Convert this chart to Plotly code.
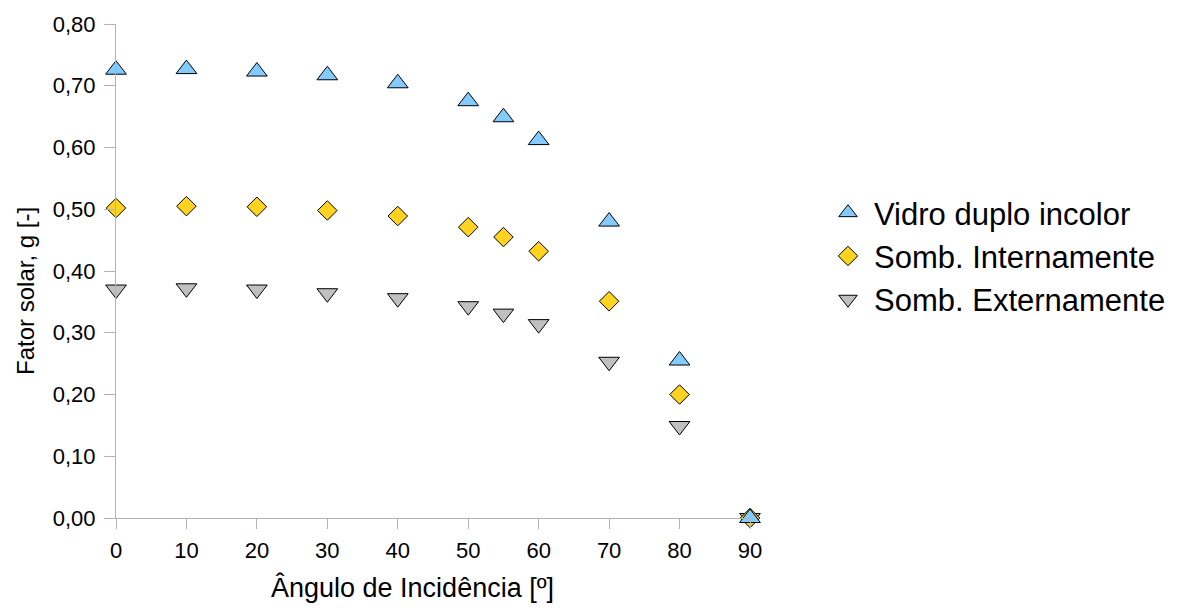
import plotly.graph_objects as go

angles = [0, 10, 20, 30, 40, 50, 55, 60, 70, 80, 90]
vidro = [0.726, 0.727, 0.723, 0.717, 0.704, 0.675, 0.649, 0.612, 0.480, 0.255, 0.000]
somb_int = [0.502, 0.505, 0.504, 0.498, 0.489, 0.471, 0.455, 0.432, 0.351, 0.200, 0.000]
somb_ext = [0.370, 0.372, 0.370, 0.364, 0.356, 0.343, 0.331, 0.314, 0.253, 0.149, 0.000]
names = ["Vidro duplo incolor", "Somb. Internamente", "Somb. Externamente"]
yticks = [0.0, 0.1, 0.2, 0.3, 0.4, 0.5, 0.6, 0.7, 0.8]
ytext = ["0,00", "0,10", "0,20", "0,30", "0,40", "0,50", "0,60", "0,70", "0,80"]
xticks = [0, 10, 20, 30, 40, 50, 60, 70, 80, 90]

FONT = "Liberation Sans, Arial, sans-serif"
AX = "#b3b3b3"

fig = go.Figure()
styles = [
    (vidro, "triangle-up", 18, "#83caff"),
    (somb_int, "diamond", 15, "#ffd320"),
    (somb_ext, "triangle-down", 18, "#c0c0c0"),
]
# draw last series first so the first series sits on top (as in the reference)
for (ys, sym, sz, col), nm in reversed(list(zip(styles, names))):
    fig.add_trace(go.Scatter(
        x=angles, y=ys, mode="markers", name=nm, cliponaxis=False,
        marker=dict(symbol=sym, size=sz, color=col, line=dict(color="#000000", width=1)),
    ))

fig.update_layout(
    width=1181, height=608,
    margin=dict(l=116, r=431, t=22, b=90),
    paper_bgcolor="white", plot_bgcolor="white",
    font=dict(family=FONT, color="#000000"),
    showlegend=True,
    legend=dict(
        xref="container", yref="container",
        x=822 / 1181, y=1 - 186 / 608, xanchor="left", yanchor="top",
        font=dict(size=31, family=FONT, color="#000000"),
        bgcolor="rgba(0,0,0,0)", traceorder="reversed", itemwidth=42,
    ),
    xaxis=dict(
        range=[0, 90], tickvals=xticks, showgrid=False, zeroline=False,
        showline=True, linecolor=AX, linewidth=1,
        ticks="outside", ticklen=10, tickcolor=AX, tickwidth=1,
        tickfont=dict(size=22, family=FONT, color="#000000"),
        ticklabelstandoff=3,
    ),
    yaxis=dict(
        range=[0, 0.8], tickvals=yticks, ticktext=ytext, showgrid=False, zeroline=False,
        showline=True, linecolor=AX, linewidth=1,
        ticks="outside", ticklen=11, tickcolor=AX, tickwidth=1,
        tickfont=dict(size=22, family=FONT, color="#000000"),
        ticklabelstandoff=4,
    ),
    annotations=[
        dict(text="Ângulo de Incidência [º]", xref="paper", yref="paper",
             x=(412 - 116) / 634, y=-(588 - 518) / 496, xanchor="center", yanchor="middle",
             showarrow=False, font=dict(size=27, family=FONT, color="#000000")),
        dict(text="Fator solar, g [-]", xref="paper", yref="paper",
             x=-(116 - 26) / 634, y=(518 - 290) / 496, xanchor="center", yanchor="middle", textangle=-90,
             showarrow=False, font=dict(size=24, family=FONT, color="#000000")),
    ],
)

fig.write_html("out.html", config={"displayModeBar": False},
               post_script="document.body.style.margin='0';document.body.style.overflow='hidden';")
